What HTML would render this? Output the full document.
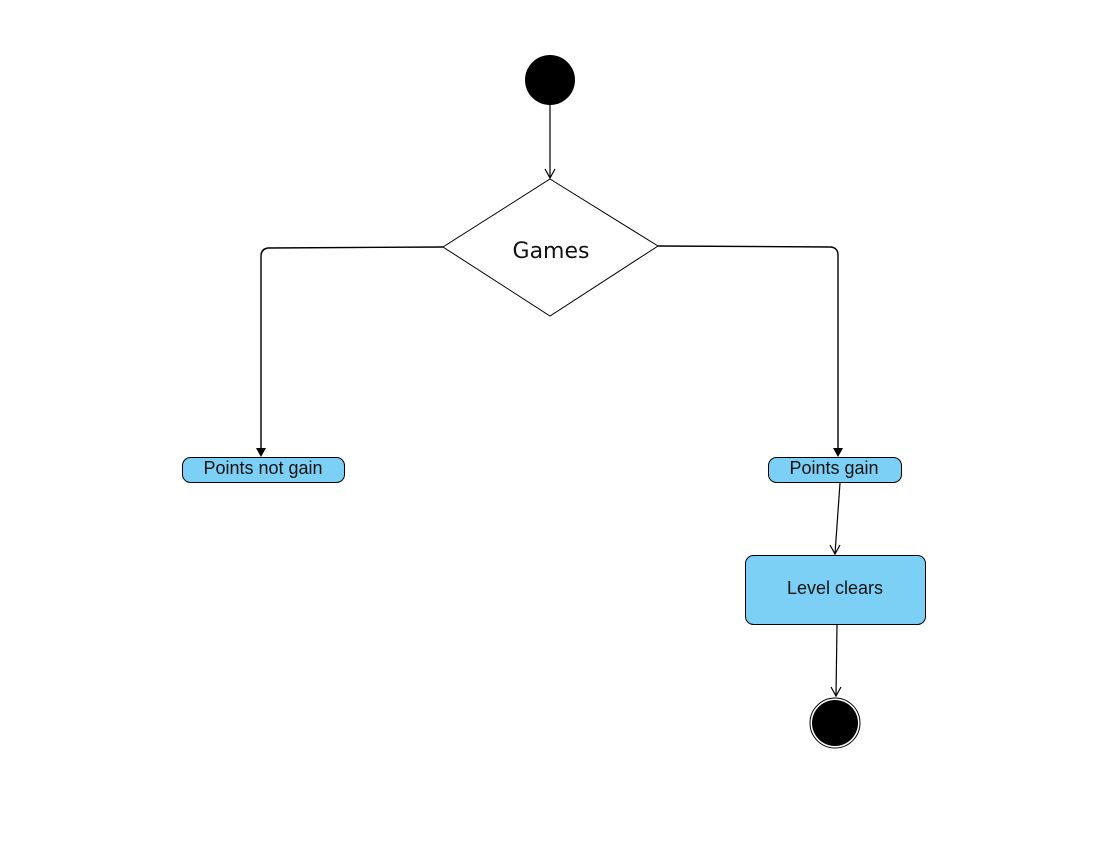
<!DOCTYPE html>
<html><head><meta charset="utf-8"><style>
html,body{margin:0;padding:0;background:#fff;width:1106px;height:856px;overflow:hidden}
text{font-family:"Liberation Sans",sans-serif;fill:#111}
</style></head><body>
<svg width="1106" height="856" viewBox="0 0 1106 856" xmlns="http://www.w3.org/2000/svg">
<!-- start -->
<circle cx="550" cy="80" r="25" fill="#000"/>
<line x1="550" y1="105" x2="550" y2="178" stroke="#000" stroke-width="1.2"/>
<path d="M545,169 L550,178 L555,169" fill="none" stroke="#000" stroke-width="1.2"/>
<!-- diamond -->
<polygon points="550,179 658,246 550,316 443,247" fill="#fff" stroke="#000" stroke-width="1"/>
<text x="551" y="258" font-size="22" text-anchor="middle" style="font-family:'DejaVu Sans',sans-serif">Games</text>
<!-- left branch -->
<path d="M443,247 L268,248 Q261,249 261,256 L261,449" fill="none" stroke="#000" stroke-width="1.4"/>
<polygon points="256,448 266,448 261,457" fill="#000"/>
<!-- right branch -->
<path d="M658,246 L831,247 Q838,248 838,255 L838,449" fill="none" stroke="#000" stroke-width="1.4"/>
<polygon points="833,448 843,448 838,457" fill="#000"/>
<!-- boxes -->
<rect x="182.5" y="457.5" width="162" height="25" rx="8" fill="#7dd0f5" stroke="#000" stroke-width="1"/>
<text x="263" y="474" font-size="18" text-anchor="middle">Points not gain</text>
<rect x="768.5" y="457.5" width="133" height="25" rx="8" fill="#7dd0f5" stroke="#000" stroke-width="1"/>
<text x="834" y="474" font-size="18" text-anchor="middle">Points gain</text>
<line x1="840" y1="483" x2="835" y2="554" stroke="#000" stroke-width="1.2"/>
<path d="M830,545 L835,554 L840,545" fill="none" stroke="#000" stroke-width="1.2"/>
<rect x="745.5" y="555.5" width="180" height="69" rx="8" fill="#7dd0f5" stroke="#000" stroke-width="1"/>
<text x="835" y="594" font-size="18" text-anchor="middle">Level clears</text>
<line x1="837" y1="625" x2="836" y2="696" stroke="#000" stroke-width="1.2"/>
<path d="M831,687 L836,696 L841,687" fill="none" stroke="#000" stroke-width="1.2"/>
<!-- end -->
<circle cx="835" cy="723" r="25" fill="#fff" stroke="#000" stroke-width="1"/>
<circle cx="835" cy="723" r="23" fill="#000"/>
</svg>
</body></html>
